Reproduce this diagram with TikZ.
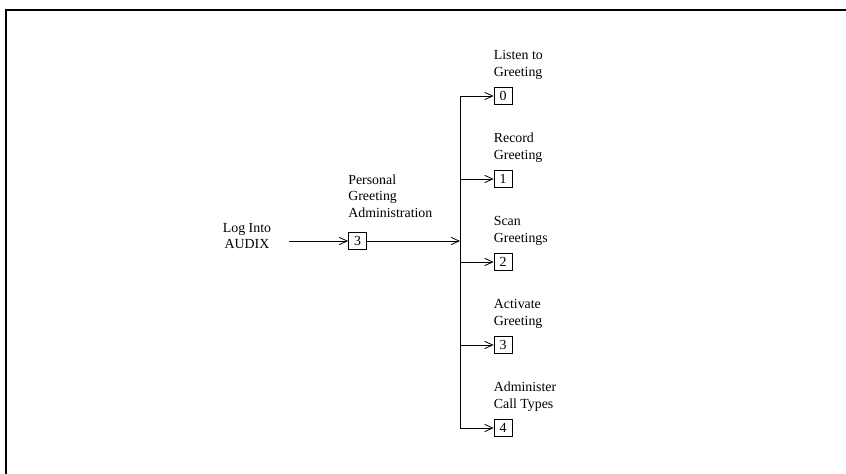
\documentclass[tikz,border=0pt]{standalone}
\usepackage{fontspec}
\setmainfont{Liberation Serif}
\usetikzlibrary{arrows.meta}
\usetikzlibrary{positioning}

\begin{document}
\begin{tikzpicture}[x=0.75pt,y=-0.75pt]
  \tikzset{key/.style = {shape=rectangle,draw,line width=0.6pt,inner sep=0pt,
      minimum width=13.5pt,minimum height=12.5pt,font=\fontsize{10.4}{12.4}\selectfont}}
  \tikzset{label/.style = {align=left,inner sep=0pt,font=\fontsize{10.4}{12.4}\selectfont}}
  \tikzset{edge/.style = {-{Straight Barb[length=6pt,width=5.5pt]},line width=0.6pt}}

  \useasboundingbox (0,0) rectangle (846,474);
  \draw[line width=0.8pt] (6,474) -- (6,10) -- (846,10);

  \node[align=center,inner sep=0pt,font=\fontsize{10.4}{12.4}\selectfont] (login) at (247,236) {Log Into\\AUDIX};

  \node[key] (pga) at (357.5,241) {3};
  \node[label, above right=11pt and 0pt of pga.north west] (pgalbl) {Personal\\Greeting\\Administration};

  \coordinate (hub) at (460,241);

  \node[key] (b0) at (503,96) {0};
  \node[key] (b1) at (503,179) {1};
  \node[key] (b2) at (503,262) {2};
  \node[key] (b3) at (503,345) {3};
  \node[key] (b4) at (503,428) {4};

  \node[label, above right=6pt and 0pt of b0.north west] (l0) {Listen to\\Greeting};
  \node[label, above right=6pt and 0pt of b1.north west] (l1) {Record\\Greeting};
  \node[label, above right=6pt and 0pt of b2.north west] (l2) {Scan\\Greetings};
  \node[label, above right=6pt and 0pt of b3.north west] (l3) {Activate\\Greeting};
  \node[label, above right=6pt and 0pt of b4.north west] (l4) {Administer\\Call Types};

  \draw[edge, shorten <=13pt] (login.east |- pga.west) -- (pga.west);
  \draw[edge] (pga.east) -- (hub);

  \draw[line width=0.6pt] (b0 -| hub) -- (b4 -| hub);
  \draw[edge] (b0 -| hub) -- (b0.west);
  \draw[edge] (b1 -| hub) -- (b1.west);
  \draw[edge] (b2 -| hub) -- (b2.west);
  \draw[edge] (b3 -| hub) -- (b3.west);
  \draw[edge] (b4 -| hub) -- (b4.west);
\end{tikzpicture}
\end{document}
